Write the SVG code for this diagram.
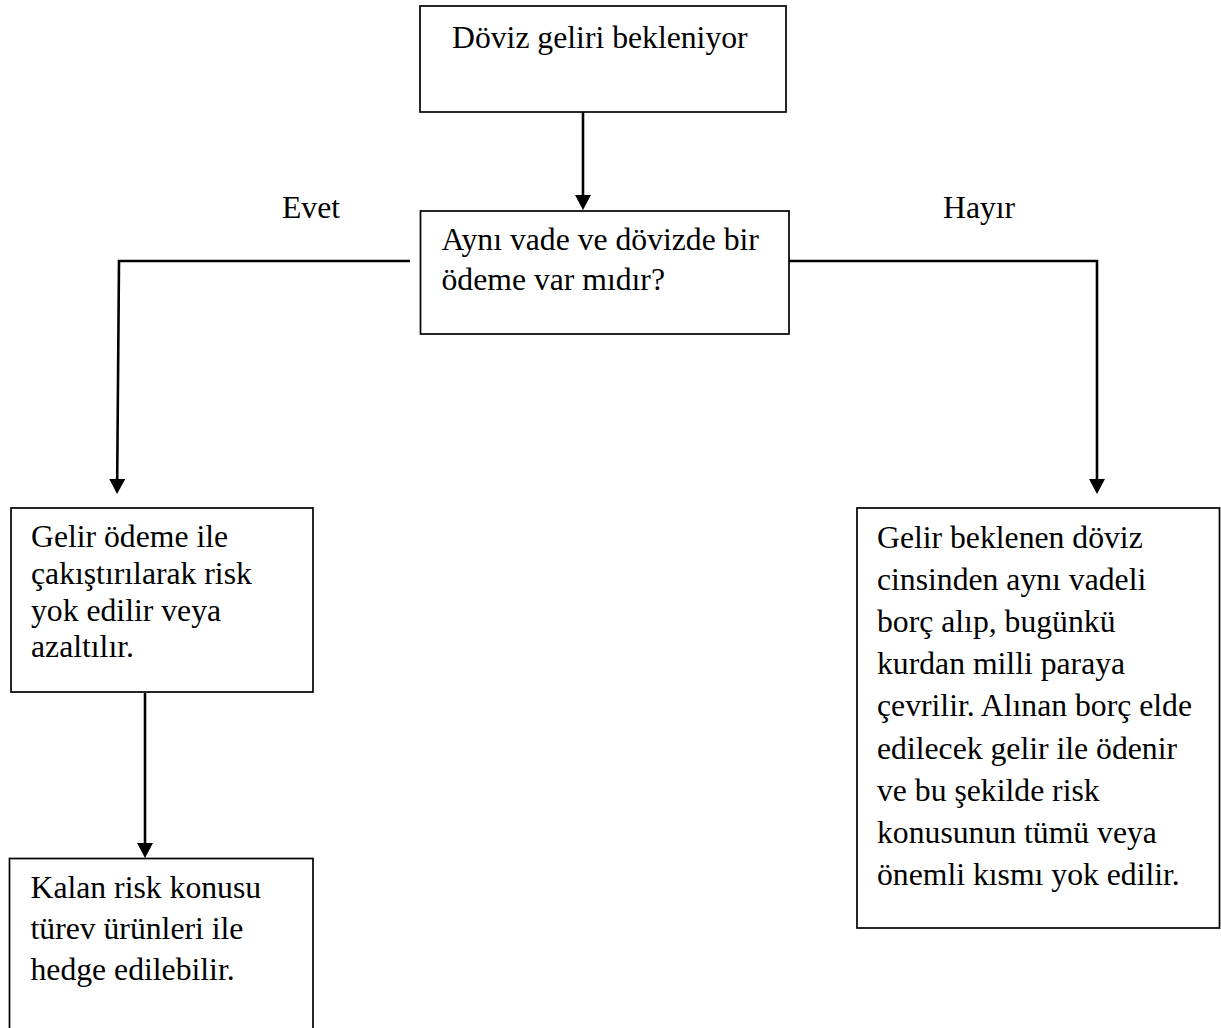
<svg xmlns="http://www.w3.org/2000/svg" width="1221" height="1028" viewBox="0 0 1221 1028">
<style>
  .box { fill: #ffffff; stroke: #000000; stroke-width: 1.7; }
  .conn { fill: none; stroke: #000000; stroke-width: 2.6; }
  .t { font-family: "Liberation Serif", "Times New Roman", serif; font-size: 31.7px; fill: #000000; }
</style>
<defs>
  <marker id="arrow" viewBox="0 0 15 16" refX="0" refY="8" markerWidth="15" markerHeight="16" markerUnits="userSpaceOnUse" orient="auto">
    <path d="M0,0 L15,8 L0,16 z" fill="#000000"/>
  </marker>
</defs>
<rect width="1221" height="1028" fill="#ffffff"/>

<g id="connectors">
  <path class="conn" d="M583,112 L583,195" marker-end="url(#arrow)"/>
  <path class="conn" d="M410,261 L119,261 L117.2,479" marker-end="url(#arrow)"/>
  <path class="conn" d="M789,261 L1097,261 L1097,479" marker-end="url(#arrow)"/>
  <path class="conn" d="M145,693 L145,843" marker-end="url(#arrow)"/>
</g>

<g id="label-evet">
  <text class="t" x="282" y="218">Evet</text>
</g>
<g id="label-hayir">
  <text class="t" x="943" y="218">Hayır</text>
</g>

<g id="node-start">
  <rect class="box" x="420" y="6" width="366" height="106"/>
  <text class="t" x="452" y="48">Döviz geliri bekleniyor</text>
</g>

<g id="node-question">
  <rect class="box" x="420.5" y="211" width="368.5" height="123"/>
  <text class="t" x="441.5" y="250">Aynı vade ve dövizde bir</text>
  <text class="t" x="441.5" y="290">ödeme var mıdır?</text>
</g>

<g id="node-yes">
  <rect class="box" x="11" y="508" width="302" height="184"/>
  <text class="t" x="31" y="547">Gelir ödeme ile</text>
  <text class="t" x="31" y="584">çakıştırılarak risk</text>
  <text class="t" x="31" y="621">yok edilir veya</text>
  <text class="t" x="31" y="657">azaltılır.</text>
</g>

<g id="node-hedge">
  <rect class="box" x="9.5" y="858.5" width="303.5" height="180"/>
  <text class="t" x="30.5" y="898">Kalan risk konusu</text>
  <text class="t" x="30.5" y="939">türev ürünleri ile</text>
  <text class="t" x="30.5" y="980">hedge edilebilir.</text>
</g>

<g id="node-no">
  <rect class="box" x="857" y="508" width="362.5" height="420"/>
  <text class="t" x="877" y="548">Gelir beklenen döviz</text>
  <text class="t" x="877" y="590">cinsinden aynı vadeli</text>
  <text class="t" x="877" y="632">borç alıp, bugünkü</text>
  <text class="t" x="877" y="674">kurdan milli paraya</text>
  <text class="t" x="877" y="716">çevrilir. Alınan borç elde</text>
  <text class="t" x="877" y="759">edilecek gelir ile ödenir</text>
  <text class="t" x="877" y="801">ve bu şekilde risk</text>
  <text class="t" x="877" y="843">konusunun tümü veya</text>
  <text class="t" x="877" y="885">önemli kısmı yok edilir.</text>
</g>
</svg>
